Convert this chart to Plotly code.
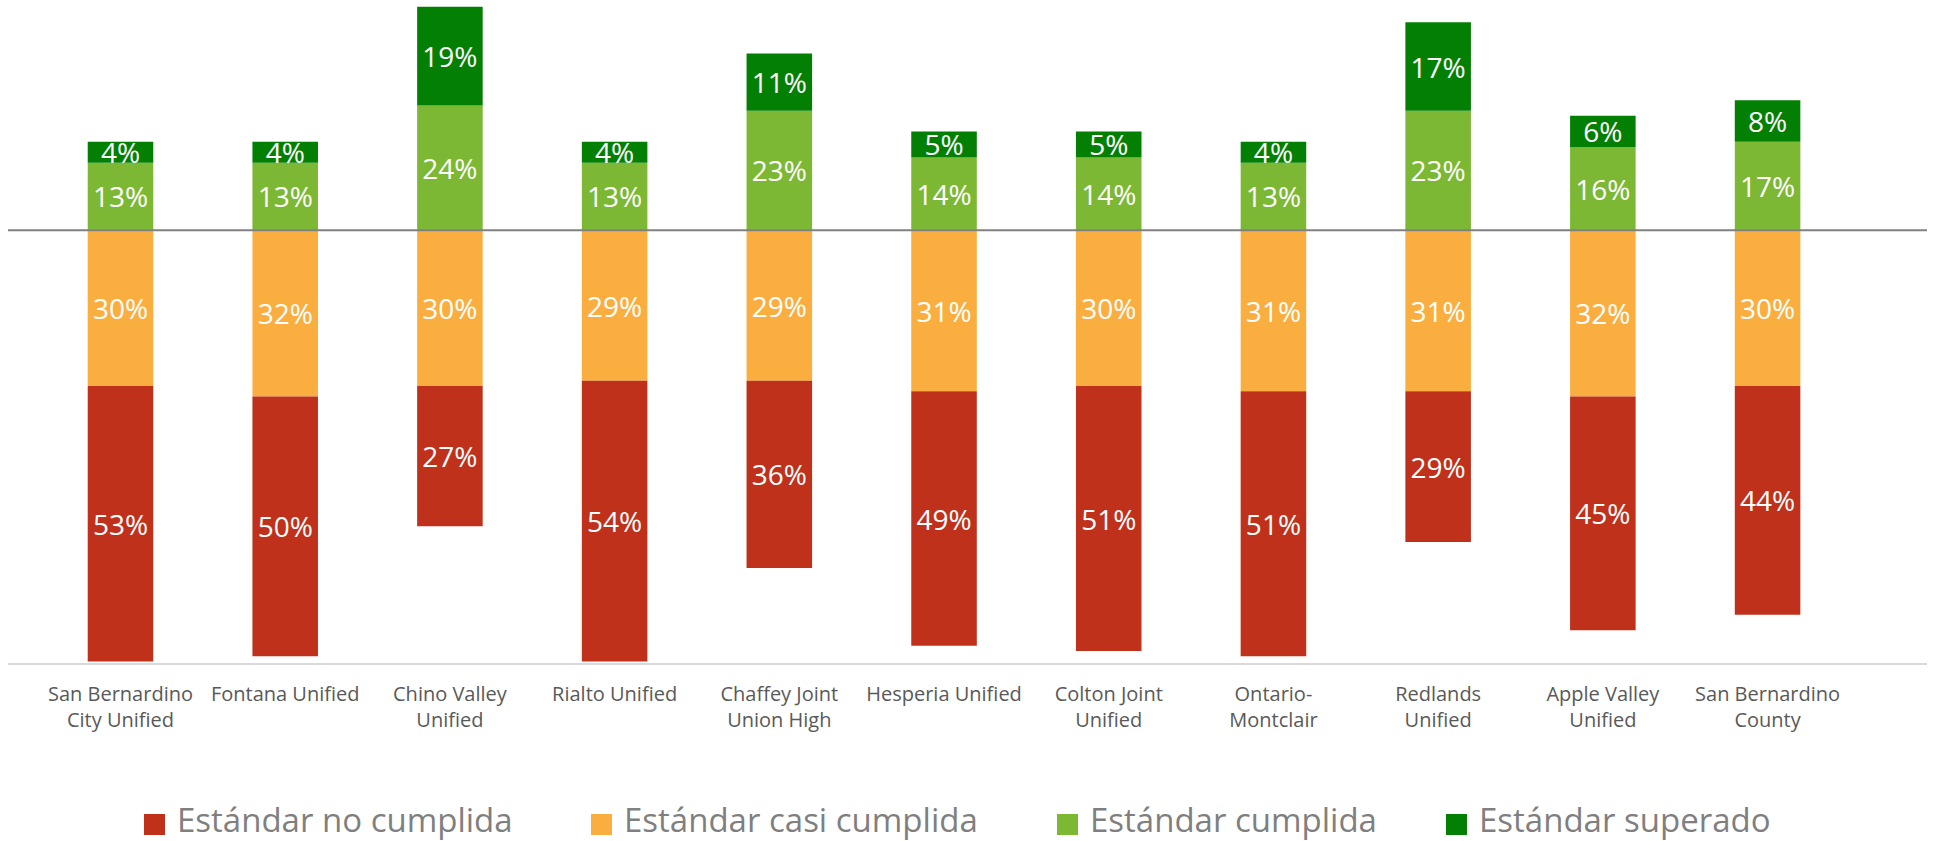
import plotly.graph_objects as go

districts = [
    "San Bernardino<br>City Unified", "Fontana Unified", "Chino Valley<br>Unified",
    "Rialto Unified", "Chaffey Joint<br>Union High", "Hesperia Unified",
    "Colton Joint<br>Unified", "Ontario-<br>Montclair", "Redlands<br>Unified",
    "Apple Valley<br>Unified", "San Bernardino<br>County",
]
no_cumplida = [53, 50, 27, 54, 36, 49, 51, 51, 29, 45, 44]
casi_cumplida = [30, 32, 30, 29, 29, 31, 30, 31, 31, 32, 30]
cumplida = [13, 13, 24, 13, 23, 14, 14, 13, 23, 16, 17]
superado = [4, 4, 19, 4, 11, 5, 5, 4, 17, 6, 8]

series_names = ["Estándar no cumplida", "Estándar casi cumplida", "Estándar cumplida", "Estándar superado"]
colors = ["#C0311C", "#FBAE40", "#7CB834", "#038003"]

W, H = 1937, 841
ML, MR, MT, MB = 8, 10, 0, 178
PW, PH = W - ML - MR, H - MT - MB

x = list(range(len(districts)))

def bar(vals, sign, name, color):
    return go.Bar(
        x=x, y=[sign * v for v in vals], name=name,
        marker=dict(color=color, line=dict(width=0)),
        width=0.398,
        text=[f"{v}%" for v in vals], textposition="inside",
        insidetextanchor="middle", textangle=0,
        textfont=dict(family="Open Sans", size=28, color="white"),
        showlegend=False,
    )

fig = go.Figure()
fig.add_trace(bar(casi_cumplida, -1, series_names[1], colors[1]))
fig.add_trace(bar(no_cumplida, -1, series_names[0], colors[0]))
fig.add_trace(bar(cumplida, 1, series_names[2], colors[2]))
fig.add_trace(bar(superado, 1, series_names[3], colors[3]))

def px2paper_x(px):
    return (px - ML) / PW

def px2paper_y(py):
    return (MT + PH - py) / PH

shapes = [dict(type="line", xref="paper", yref="y", x0=0, x1=1, y0=0, y1=0,
               line=dict(color="#808080", width=2), layer="above")]
annotations = []
sq_left = [144, 591, 1057, 1446]
for name, color, sx in zip(series_names, colors, sq_left):
    shapes.append(dict(type="rect", xref="paper", yref="paper",
                       x0=px2paper_x(sx), x1=px2paper_x(sx + 21),
                       y0=px2paper_y(835), y1=px2paper_y(814),
                       fillcolor=color, line=dict(width=0)))
    annotations.append(dict(text=name, xref="paper", yref="paper",
                            x=px2paper_x(sx + 31), y=px2paper_y(819),
                            xanchor="left", yanchor="middle", showarrow=False,
                            font=dict(family="Open Sans", size=33, color="#7f7f7f")))

fig.update_layout(
    width=W, height=H,
    margin=dict(l=ML, r=MR, t=MT, b=MB, pad=0),
    barmode="relative",
    plot_bgcolor="white", paper_bgcolor="white",
    uniformtext=dict(minsize=28, mode="show"),
    shapes=shapes, annotations=annotations,
    showlegend=False,
    xaxis=dict(
        range=[-0.683, 10.968], tickmode="array", tickvals=x, ticktext=districts,
        showgrid=False, zeroline=False, showline=True, linecolor="#d9d9d9", linewidth=2,
        ticks="", tickfont=dict(family="Open Sans", size=20, color="#595959"),
        ticklabelstandoff=12,
    ),
    yaxis=dict(range=[-83.3, 44.3], showgrid=False, zeroline=False,
               showticklabels=False, ticks=""),
)

fig.write_html("out.html", config={"displayModeBar": False},
               post_script="document.body.style.margin='0';document.body.style.overflow='hidden';")
